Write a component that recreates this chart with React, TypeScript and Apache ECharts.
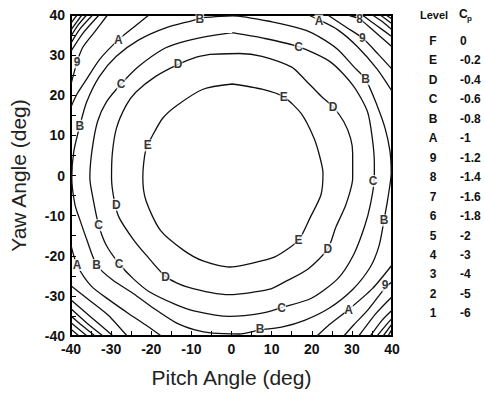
import React, { useEffect, useRef } from "react";
import * as echarts from "echarts";

// Legend table: contour level letters and their pressure coefficients
const levelLetters = ["F", "E", "D", "C", "B", "A", "9", "8", "7", "6", "5", "4", "3", "2", "1"];
const levelValues = ["0", "-0.2", "-0.4", "-0.6", "-0.8", "-1", "-1.2", "-1.4", "-1.6", "-1.8", "-2", "-3", "-4", "-5", "-6"];

const axisTicks = [-40, -30, -20, -10, 0, 10, 20, 30, 40];

// Contour lines, [pitch, yaw] in degrees
const contourE: number[][] = [
  [0.2, 22.8], [7.6, 21.5], [13, 19.6], [17.4, 15.4], [20.6, 9.2], [22.1, 4.3], [22.8, 0.6], [22.3, -4.8],
  [19.6, -10.5], [16.7, -16.1], [10.8, -20.3], [4.4, -22], [-0.5, -22.8], [-7.1, -21.3], [-12, -18.6],
  [-17.7, -13.7], [-21.3, -6.3], [-22.1, -0.6], [-21.3, 6.8], [-20.1, 9.2], [-17.2, 14.2], [-13.7, 17.4],
  [-7.1, 21.5], [0.2, 22.8],
];
const contourD: number[][] = [
  [-5.4, 30.2], [2, 30.4], [7.6, 29.7], [15, 27], [18.2, 24], [22.3, 19.8], [25.3, 17.1], [28, 13.4],
  [29.7, 9.2], [30.2, 5.5], [30.2, -0.6], [28.5, -7.3], [26, -12.9], [24, -18.3], [19.1, -23.3],
  [13.3, -26.5], [9.3, -28.4], [-0.5, -29.7], [-11.3, -27.7], [-16.4, -25.2], [-21.3, -19.8],
  [-24.5, -15.9], [-28, -10.5], [-29.2, -6.3], [-29.9, -0.6], [-29.7, 5.5], [-28.7, 11.7], [-26.3, 17.4],
  [-23.8, 20.8], [-18.9, 24.7], [-13.3, 27.7], [-9.1, 29.4], [-5.4, 30.2],
];
const contourC: number[][] = [
  [0.2, 35.6], [7.6, 34.3], [16.7, 32.1], [24.8, 28.2], [30.4, 22.3], [33.9, 15.9], [35.1, 9.2],
  [35.6, 3.1], [35.6, -0.6], [34.6, -7.3], [33.1, -12.9], [30.4, -19.8], [26.5, -25.7], [19.9, -30.6],
  [12.5, -32.9], [7.6, -34.3], [-0.5, -35.1], [-9.1, -33.8], [-14, -32.1], [-20.6, -28.9], [-24.5, -25.7],
  [-28, -22], [-31.2, -17.4], [-33.1, -12.4], [-34.4, -6.3], [-35.3, -0.6], [-34.8, 6], [-33.4, 13.4],
  [-31.2, 18.3], [-27.5, 22.8], [-23.1, 27.2], [-17.2, 31.4], [-12.8, 33.1], [-6.4, 34.6], [0.2, 35.6],
];
const contourB: number[][] = [
  [-7.9, 39.3], [0.2, 39.8], [10.1, 38.3], [18.2, 36.3], [22.3, 34.3], [26.5, 31.4], [30.4, 27.2],
  [33.4, 24], [36.3, 17.4], [38.3, 11.7], [39.5, 6], [39.8, 0.6], [39, -5.5], [38, -11.2], [36.8, -17.4],
  [34.6, -22.8], [30.2, -28.4], [24.3, -33.1], [18.2, -36.1], [12.5, -37.8], [7.1, -38.5], [2, -39.5],
  [-4.7, -39.3], [-9.1, -38.5], [-14, -36.6], [-19.4, -33.1], [-24.5, -29.4], [-29.7, -26], [-33.6, -22.3],
  [-36.1, -15.9], [-37.8, -11], [-39, -7.3], [-39.8, -0.6], [-39.3, 6], [-37.8, 12.4], [-36.1, 18.3],
  [-32.9, 24.7], [-28.7, 29.7], [-23.1, 33.8], [-16.4, 36.8], [-9.1, 38.8], [-7.9, 39.3],
];

// Corner contours (clipped by the plot frame)
const contourA_TL = [[-20.6, 40], [-24.3, 37], [-28.2, 33.8], [-32.9, 28.9], [-36.1, 24], [-38.5, 20.3], [-40, 17.1]];
const contourA_TR = [[19.1, 40], [21.8, 38.8], [26.5, 36.3], [31.4, 32.1], [36.3, 26.5], [40, 21]];
const contourA_BR = [[40, -22.3], [35.1, -28.2], [29.2, -33.4], [24, -37.5], [21.3, -40]];
const contourA_BL = [[-40, -17.4], [-38.5, -22.3], [-35, -27.5], [-30.5, -31], [-25.5, -34.5], [-21, -37.5], [-17.5, -40]];

const contour9_TL = [[-30.9, 40], [-34.1, 35.8], [-37.1, 31.9], [-38.5, 28.2], [-40, 22.8]];
const contour9_TR = [[24, 40], [28.5, 37], [32.6, 34.3], [36.6, 30.2], [40, 26.5]];
const contour9_BR = [[40, -26.5], [38.3, -28], [34, -33.5], [30.5, -37.2], [28, -40]];
const contour9_BL = [[-40, -27.5], [-35.5, -31], [-30.5, -35], [-26, -40]];

const contour8_TL = [[-33, 40], [-37, 35.5], [-40, 31]];
const contour8_TR = [[29, 40], [31.9, 39], [35.5, 36], [40, 32.1]];
const contour8_BR = [[40, -30.2], [35.8, -34.6], [31.7, -40]];
const contour8_BL = [[-40, -31], [-35, -35.3], [-29.5, -40]];

const contour7_TL = [[-34.6, 40], [-37.8, 36.5], [-40, 33]];
const contour7_TR = [[32.6, 40], [36, 37.5], [40, 34.6]];
const contour7_BR = [[40, -33.6], [37.5, -36.1], [34.6, -40]];
const contour7_BL = [[-40, -33.2], [-36, -36.8], [-32, -40]];

const contour6_TL = [[-36.1, 40], [-38.3, 37.4], [-40, 34.7]];
const contour6_TR = [[35.1, 40], [37.8, 38.2], [40, 36.3]];
const contour6_BR = [[40, -35.6], [38.5, -37.3], [36.3, -40]];
const contour6_BL = [[-40, -35], [-37, -37.6], [-34, -40]];

const contour5_TL = [[-37.3, 40], [-40, 36.3]];
const contour5_TR = [[37.1, 40], [40, 37.8]];
const contour5_BR = [[40, -37], [37.8, -40]];
const contour5_BL = [[-40, -36.7], [-36, -40]];

const contour4_TL = [[-38.5, 40], [-40, 38]];
const contour4_TR = [[38.5, 40], [40, 39]];
const contour4_BR = [[40, -38.3], [39, -40]];
const contour4_BL = [[-40, -38.3], [-38, -40]];

// Level letters written on the contour lines: [pitch, yaw, level]
const lineLabels: [number, number, string][] = [
  [-20.9, 7.5, "E"], [13, 19.6, "E"], [16.7, -16.1, "E"],
  [-13.3, 27.7, "D"], [25.3, 17.1, "D"], [-28.7, -7.3, "D"], [-16.4, -25.2, "D"], [24, -18.3, "D"],
  [-27.5, 22.8, "C"], [16.7, 32.1, "C"], [35.3, -1.4, "C"], [12.5, -32.9, "C"], [-28, -22, "C"], [-33.1, -12.4, "C"],
  [-7.9, 39.1, "B"], [33.4, 24, "B"], [38, -11.2, "B"], [7.1, -38.3, "B"], [-33.6, -22.3, "B"], [-37.8, 12.4, "B"],
  [-28.2, 33.8, "A"], [21.8, 38.6, "A"], [29.2, -33.4, "A"], [-38.5, -22.3, "A"],
  [-38.5, 28.2, "9"], [32.6, 34.3, "9"], [38.3, -27.4, "9"],
  [31.9, 39, "8"],
];

const contours: number[][][] = [
  contourE, contourD, contourC, contourB,
  contourA_TL, contourA_TR, contourA_BR, contourA_BL,
  contour9_TL, contour9_TR, contour9_BR, contour9_BL,
  contour8_TL, contour8_TR, contour8_BR, contour8_BL,
  contour7_TL, contour7_TR, contour7_BR, contour7_BL,
  contour6_TL, contour6_TR, contour6_BR, contour6_BL,
  contour5_TL, contour5_TR, contour5_BR, contour5_BL,
  contour4_TL, contour4_TR, contour4_BR, contour4_BL,
];

const FONT = "'Liberation Sans', Arial, Helvetica, sans-serif";

export default function App() {
  const ref = useRef<HTMLDivElement>(null);

  useEffect(() => {
    document.body.style.margin = "0";
    const chart = echarts.init(ref.current!, null, { renderer: "svg" });

    const legendTop = 41;
    const legendStep = 19.45;
    const legendTexts: any[] = [
      { type: "text", left: 420, top: 9, style: { text: "Level", font: `bold 11px ${FONT}`, fill: "#111" } },
      { type: "text", left: 459, top: 8, style: { text: "C", font: `bold 12px ${FONT}`, fill: "#111" } },
      { type: "text", left: 467, top: 14, style: { text: "p", font: `bold 8px ${FONT}`, fill: "#111" } },
    ];
    levelLetters.forEach((l, i) => {
      legendTexts.push({
        type: "text",
        x: 433,
        y: legendTop + i * legendStep,
        style: { text: l, font: `bold 12px ${FONT}`, fill: "#111", align: "center", verticalAlign: "middle" },
      });
      legendTexts.push({
        type: "text",
        x: 460,
        y: legendTop + i * legendStep,
        style: { text: levelValues[i], font: `bold 12px ${FONT}`, fill: "#111", align: "left", verticalAlign: "middle" },
      });
    });

    const tickLabel = (v: number) => (axisTicks.indexOf(v) >= 0 ? String(v) : "");

    const lineSeries = contours.map((pts) => ({
      type: "line",
      data: pts,
      showSymbol: false,
      symbol: "none",
      smooth: 0.25,
      silent: true,
      clip: true,
      lineStyle: { color: "#111", width: 1.3 },
    }));

    chart.setOption({
      animation: false,
      backgroundColor: "#fff",
      grid: {
        left: 66,
        top: 15,
        width: 326,
        height: 325,
        show: true,
        borderColor: "#000",
        borderWidth: 2,
        backgroundColor: "transparent",
      },
      xAxis: {
        type: "value",
        min: -40,
        max: 40,
        interval: 5,
        name: "Pitch Angle (deg)",
        nameLocation: "middle",
        nameGap: 31,
        nameTextStyle: { fontFamily: FONT, fontSize: 21, color: "#222" },
        axisLine: { onZero: false, lineStyle: { color: "#000", width: 2 } },
        axisTick: { inside: true, length: 5, lineStyle: { color: "#000", width: 1 } },
        axisLabel: { formatter: tickLabel, fontFamily: FONT, fontSize: 14, fontWeight: "bold", color: "#111", margin: 6 },
        splitLine: { show: false },
      },
      yAxis: {
        type: "value",
        min: -40,
        max: 40,
        interval: 5,
        name: "Yaw Angle (deg)",
        nameLocation: "middle",
        nameGap: 42,
        nameTextStyle: { fontFamily: FONT, fontSize: 21, color: "#222" },
        axisLine: { onZero: false, lineStyle: { color: "#000", width: 2 } },
        axisTick: { inside: true, length: 5, lineStyle: { color: "#000", width: 1 } },
        axisLabel: { formatter: tickLabel, fontFamily: FONT, fontSize: 14, fontWeight: "bold", color: "#111", margin: 6 },
        splitLine: { show: false },
      },
      series: [
        ...lineSeries,
        {
          type: "scatter",
          data: lineLabels,
          symbolSize: 0,
          silent: true,
          z: 5,
          label: {
            show: true,
            position: "inside",
            formatter: (p: any) => p.data[2],
            fontFamily: FONT,
            fontSize: 12,
            fontWeight: "bold",
            color: "#000",
            backgroundColor: "#fff",
            padding: [0, 0],
          },
        },
      ],
      graphic: legendTexts,
    });

    return () => chart.dispose();
  }, []);

  return <div ref={ref} style={{ width: 485, height: 393 }} />;
}
